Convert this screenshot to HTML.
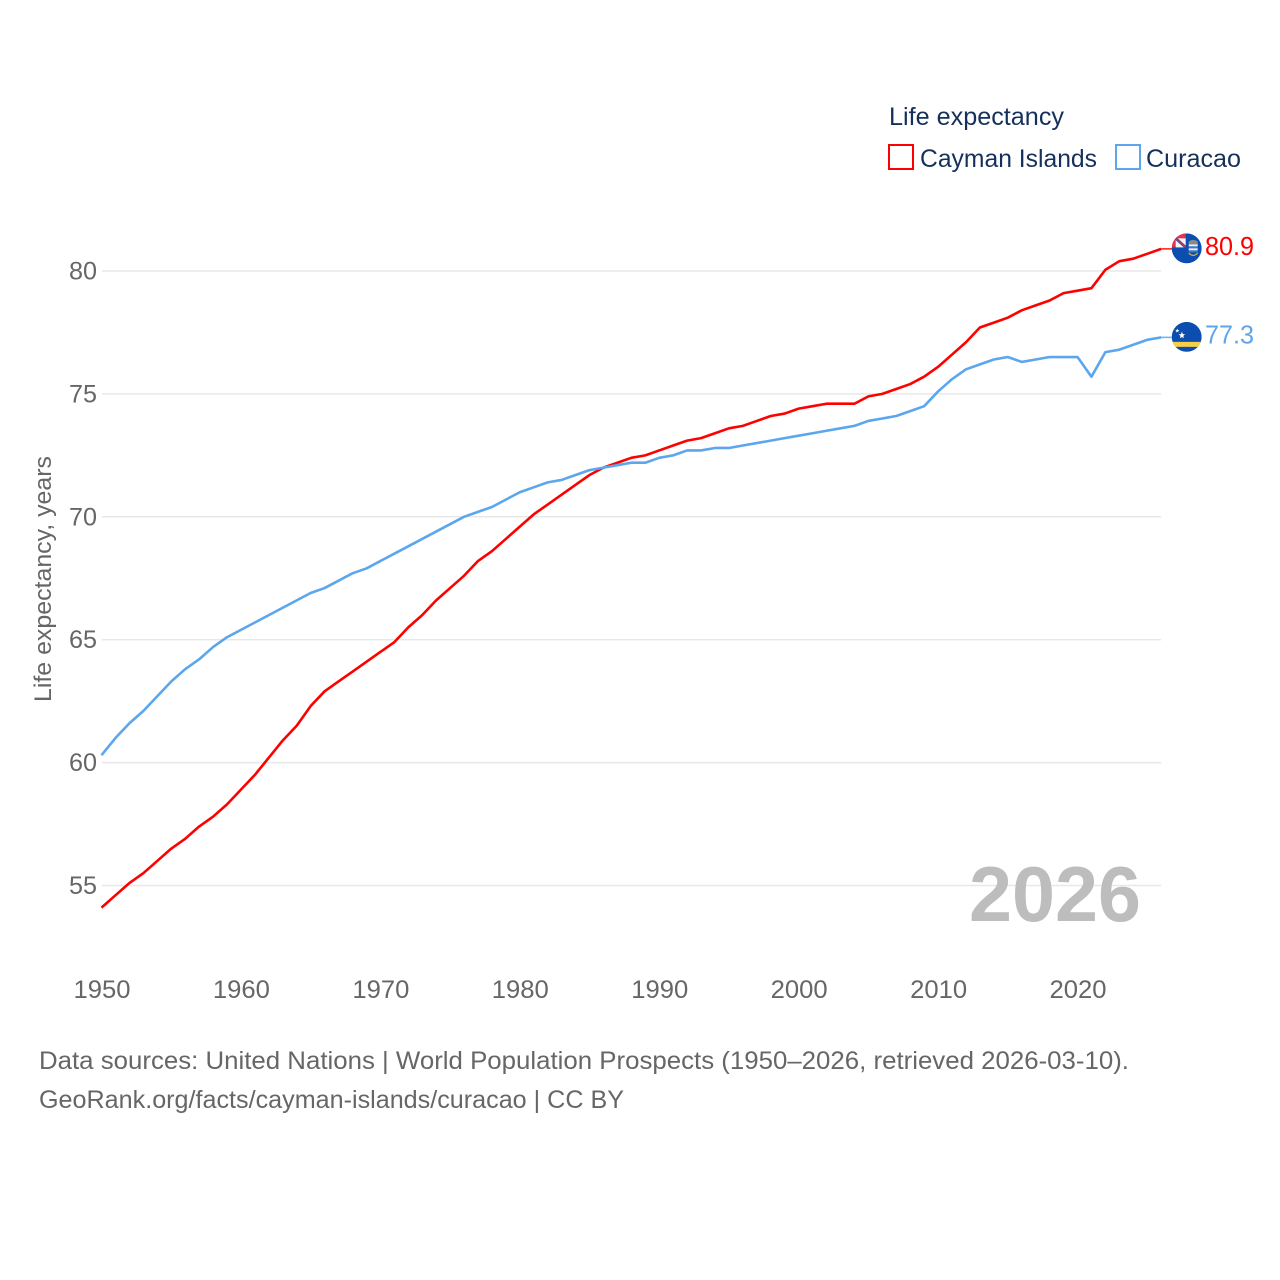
<!DOCTYPE html>
<html lang="en">
<head>
<meta charset="utf-8">
<title>Life expectancy: Cayman Islands and Curacao</title>
<style>
html,body{margin:0;padding:0;background:#fff;width:1280px;height:1280px;overflow:hidden}
svg{display:block}
text{font-family:"Liberation Sans",sans-serif}
</style>
</head>
<body>
<svg id="chart" xmlns="http://www.w3.org/2000/svg" width="1280" height="1280" viewBox="0 0 1280 1280">
  <rect width="1280" height="1280" fill="#fff"/>
  <g id="grid"></g>
  <g id="ylabels"></g>
  <g id="xlabels"></g>
  <text x="969" y="921" font-size="78" font-weight="700" fill="#bdbdbd" textLength="172" lengthAdjust="spacingAndGlyphs">2026</text>
  <g id="series"></g>
  <text transform="translate(51,702) rotate(-90)" font-size="24" fill="#666" textLength="246" lengthAdjust="spacingAndGlyphs">Life expectancy, years</text>
  <g>
    <text x="889" y="125" font-size="25" fill="#15305a" textLength="175" lengthAdjust="spacingAndGlyphs">Life expectancy</text>
    <g>
      <rect x="889" y="145" width="24" height="24" fill="none" stroke="#ff0000" stroke-width="2"/>
      <text x="920" y="167" font-size="25" fill="#15305a" textLength="177" lengthAdjust="spacingAndGlyphs">Cayman Islands</text>
    </g>
    <g>
      <rect x="1116" y="145" width="24" height="24" fill="none" stroke="#5ca6ee" stroke-width="2"/>
      <text x="1146" y="167" font-size="25" fill="#15305a" textLength="95" lengthAdjust="spacingAndGlyphs">Curacao</text>
    </g>
  </g>
  <defs>
    <clipPath id="flagClipA"><circle id="clipCircleA" r="15"/></clipPath>
    <clipPath id="flagClipB"><circle id="clipCircleB" r="15"/></clipPath>
  </defs>
  <g id="flagCayman">
    <g clip-path="url(#flagClipA)">
      <circle r="15" fill="#0b4eb0"/>
      <rect x="-15" y="-15" width="14" height="14" fill="#e0354f"/>
      <rect x="-11" y="-10" width="10" height="9" fill="#f4f4f7"/>
      <path d="M-11 -10 L-1 -1" stroke="#2a4a9c" stroke-width="2.6"/>
      <path d="M-11 -10 L-1 -1" stroke="#e0354f" stroke-width="1"/>
      <path d="M2 -7 Q6.5 -10 11 -7 L11 -4 L2 -4Z" fill="#8a8a8a"/>
      <rect x="2" y="-4" width="9" height="2" fill="#f1f1f1"/>
      <rect x="2" y="-2" width="9" height="2" fill="#3e79c8"/>
      <rect x="2" y="0" width="9" height="2" fill="#f1f1f1"/>
      <rect x="2" y="2" width="9" height="2" fill="#3e79c8"/>
      <path d="M2 4 Q6.5 9 11 4 L11 5.5 Q6.5 9.5 2 5.5Z" fill="#f0c13c"/>
    </g>
  </g>
  <g id="flagCuracao">
    <g clip-path="url(#flagClipB)">
      <circle r="15" fill="#0b4eb0"/>
      <rect x="-15" y="5" width="30" height="5" fill="#f5cf47"/>
      <path d="M-4.8 -5.2 L-3.9 -2.8 L-1.6 -2.6 L-3.4 -1 L-2.8 1.4 L-4.8 0.1 L-6.8 1.4 L-6.2 -1 L-8 -2.6 L-5.7 -2.8Z" fill="#fff"/>
      <path d="M-9.4 -8.3 L-8.8 -6.9 L-7.4 -6.8 L-8.5 -5.8 L-8.1 -4.4 L-9.4 -5.2 L-10.7 -4.4 L-10.3 -5.8 L-11.4 -6.8 L-10 -6.9Z" fill="#fff"/>
    </g>
  </g>
  <text id="valueCayman" x="1205" font-size="25.5" fill="#ff0000" textLength="49" lengthAdjust="spacingAndGlyphs"></text>
  <text id="valueCuracao" x="1205" font-size="25.5" fill="#5ca6ee" textLength="49" lengthAdjust="spacingAndGlyphs"></text>
  <text x="39" y="1069" font-size="25" fill="#666" textLength="1090" lengthAdjust="spacingAndGlyphs">Data sources: United Nations | World Population Prospects (1950–2026, retrieved 2026-03-10).</text>
  <text x="39" y="1108" font-size="25" fill="#666" textLength="585" lengthAdjust="spacingAndGlyphs">GeoRank.org/facts/cayman-islands/curacao | CC BY</text>
</svg>
<script>
const startYear = 1950;
const yTicks = [55, 60, 65, 70, 75, 80];
const xTicks = [1950, 1960, 1970, 1980, 1990, 2000, 2010, 2020];
const caymanValues = [
  54.1,54.6,55.1,55.5,56.0,56.5,56.9,57.4,57.8,58.3,
  58.9,59.5,60.2,60.9,61.5,62.3,62.9,63.3,63.7,64.1,
  64.5,64.9,65.5,66.0,66.6,67.1,67.6,68.2,68.6,69.1,
  69.6,70.1,70.5,70.9,71.3,71.7,72.0,72.2,72.4,72.5,
  72.7,72.9,73.1,73.2,73.4,73.6,73.7,73.9,74.1,74.2,
  74.4,74.5,74.6,74.6,74.6,74.9,75.0,75.2,75.4,75.7,
  76.1,76.6,77.1,77.7,77.9,78.1,78.4,78.6,78.8,79.1,
  79.2,79.3,80.05,80.4,80.5,80.7,80.9
];
const curacaoValues = [
  60.3,61.0,61.6,62.1,62.7,63.3,63.8,64.2,64.7,65.1,
  65.4,65.7,66.0,66.3,66.6,66.9,67.1,67.4,67.7,67.9,
  68.2,68.5,68.8,69.1,69.4,69.7,70.0,70.2,70.4,70.7,
  71.0,71.2,71.4,71.5,71.7,71.9,72.0,72.1,72.2,72.2,
  72.4,72.5,72.7,72.7,72.8,72.8,72.9,73.0,73.1,73.2,
  73.3,73.4,73.5,73.6,73.7,73.9,74.0,74.1,74.3,74.5,
  75.1,75.6,76.0,76.2,76.4,76.5,76.3,76.4,76.5,76.5,
  76.5,75.7,76.7,76.8,77.0,77.2,77.3
];

const NS = 'http://www.w3.org/2000/svg';
function xScale(year) { return 101.5 + (year - 1950) * 13.943; }
function yScale(v) { return 271 + (80 - v) * 24.58; }
function make(tag, attrs, parent) {
  const el = document.createElementNS(NS, tag);
  for (const k in attrs) el.setAttribute(k, attrs[k]);
  parent.appendChild(el);
  return el;
}

const grid = document.getElementById('grid');
const ylabels = document.getElementById('ylabels');
const xlabels = document.getElementById('xlabels');
const series = document.getElementById('series');
const plotRight = xScale(startYear + caymanValues.length - 1);

yTicks.forEach(function (t) {
  const line = make('line', {x1: 102, x2: plotRight, y1: yScale(t), y2: yScale(t), stroke: '#e8e8e8', 'stroke-width': 1.5}, grid);
  
  
  const label = make('text', {x: 97, y: yScale(t) + 8.5, 'font-size': 25, fill: '#666', 'text-anchor': 'end', textLength: 28, lengthAdjust: 'spacingAndGlyphs'}, ylabels);
  label.textContent = String(t);
  
  
});

xTicks.forEach(function (t) {
  const label = make('text', {x: xScale(t) - 28, y: 998, 'font-size': 25, fill: '#666', textLength: 57, lengthAdjust: 'spacingAndGlyphs'}, xlabels);
  label.textContent = String(t);
  
  
});

function drawSeries(values, color, name) {
  const pts = values.map(function (v, i) { return xScale(startYear + i).toFixed(2) + ',' + yScale(v).toFixed(2); });
  const line = make('polyline', {points: pts.join(' '), fill: 'none', stroke: color, 'stroke-width': 2.6, 'stroke-linejoin': 'round'}, series);
  
  
  const last = values[values.length - 1];
  const lead = make('line', {x1: plotRight, x2: plotRight + 12, y1: yScale(last), y2: yScale(last), stroke: color, 'stroke-width': 1.6, opacity: 0.85}, series);
  
  
}
drawSeries(caymanValues, '#ff0000', 'cayman-islands');
drawSeries(curacaoValues, '#5ca6ee', 'curacao');

function placeEnd(values, flagId, clipId, labelId) {
  const last = values[values.length - 1];
  const y = yScale(last);
  document.getElementById(flagId).setAttribute('transform', 'translate(1186.7,' + (y - 0.5) + ')');
  document.getElementById(clipId).setAttribute('cx', 0);
  document.getElementById(clipId).setAttribute('cy', 0);
  const label = document.getElementById(labelId);
  label.setAttribute('y', y + 6);
  label.textContent = last.toFixed(1);
}
placeEnd(caymanValues, 'flagCayman', 'clipCircleA', 'valueCayman');
placeEnd(curacaoValues, 'flagCuracao', 'clipCircleB', 'valueCuracao');
</script>
</body>
</html>
